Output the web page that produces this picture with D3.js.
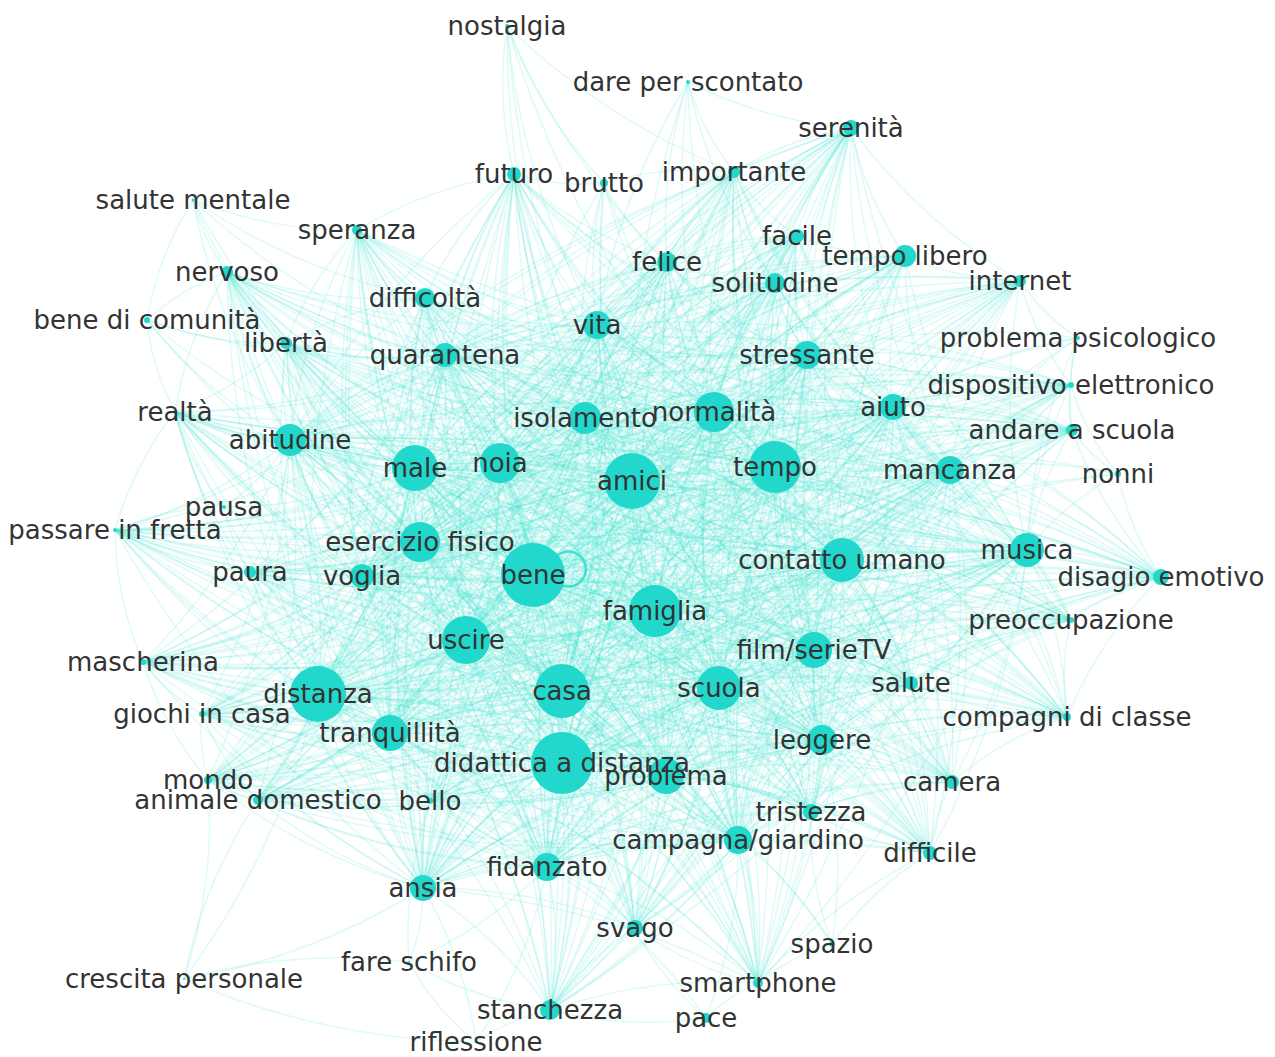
<!DOCTYPE html>
<html>
<head>
<meta charset="utf-8">
<script src="https://cdn.jsdelivr.net/npm/d3@7"></script>
<style>
  html, body { margin: 0; padding: 0; background: #fff; }
  #chart { width: 1275px; height: 1057px; }
  .label { font-family: "DejaVu Sans", sans-serif; font-size: 26px; fill: #333; }
</style>
</head>
<body>
<div id="chart"></div>
<script>
// word co-occurrence network: node layout positions
const nodeNames = [
  "nostalgia", "dare per scontato", "serenità", "importante", "futuro", "brutto",
  "salute mentale", "speranza", "facile", "felice", "tempo libero", "solitudine",
  "internet", "nervoso", "difficoltà", "bene di comunità", "vita", "libertà",
  "quarantena", "stressante", "problema psicologico", "dispositivo elettronico", "realtà", "aiuto",
  "isolamento", "normalità", "andare a scuola", "abitudine", "male", "noia",
  "amici", "tempo", "mancanza", "nonni", "pausa", "passare in fretta",
  "esercizio fisico", "bene", "paura", "voglia", "contatto umano", "musica",
  "disagio emotivo", "famiglia", "preoccupazione", "uscire", "film/serieTV", "mascherina",
  "distanza", "casa", "scuola", "salute", "giochi in casa", "compagni di classe",
  "tranquillità", "leggere", "didattica a distanza", "problema", "mondo", "animale domestico",
  "bello", "camera", "tristezza", "campagna/giardino", "difficile", "fidanzato",
  "ansia", "svago", "spazio", "fare schifo", "crescita personale", "smartphone",
  "stanchezza", "pace", "riflessione"
];
const nodeX = [
  507, 688, 851, 734, 514, 604,
  193, 357, 797, 667, 905, 775,
  1020, 227, 425, 147, 597, 286,
  445, 807, 1078, 1071, 175, 893,
  585, 714, 1072, 290, 415, 500,
  632, 775, 950, 1118, 224, 115,
  420, 533, 250, 362, 842, 1027,
  1161, 655, 1071, 466, 814, 143,
  318, 562, 719, 911, 202, 1067,
  390, 822, 562, 666, 208, 258,
  430, 952, 811, 738, 930, 547,
  423, 635, 832, 409, 184, 758,
  550, 706, 476
];
const nodeY = [
  26, 82, 128, 172, 174, 183,
  200, 230, 236, 262, 256, 283,
  281, 272, 298, 320, 325, 343,
  355, 355, 338, 385, 412, 407,
  418, 412, 430, 440, 468, 463,
  481, 467, 470, 474, 507, 530,
  542, 575, 572, 576, 560, 550,
  577, 611, 620, 640, 650, 662,
  694, 691, 688, 683, 714, 717,
  733, 740, 763, 776, 780, 800,
  801, 782, 812, 840, 853, 867,
  888, 928, 944, 962, 979, 983,
  1010, 1018, 1042
];
// node weight (frequency) -> circle area
const nodeWeight = [
  4, 4, 64, 36, 49, 16,
  2, 25, 49, 100, 121, 100,
  36, 36, 100, 9, 196, 36,
  144, 196, 4, 9, 4, 169,
  256, 400, 36, 256, 529, 400,
  784, 676, 196, 9, 4, 4,
  400, 1024, 36, 144, 484, 289,
  64, 676, 9, 576, 324, 9,
  784, 729, 484, 49, 9, 16,
  324, 225, 961, 324, 16, 25,
  9, 49, 64, 196, 49, 196,
  169, 64, 9, 1, 1, 25,
  100, 25, 1
];

// words that all co-occur with each other
const coreWords = [
  "bene", "amici", "casa", "didattica a distanza", "distanza", "famiglia", "tempo",
  "uscire", "male", "noia", "normalità", "contatto umano", "scuola", "esercizio fisico",
  "isolamento", "vita", "quarantena", "stressante", "abitudine", "aiuto", "mancanza",
  "musica", "film/serieTV", "tranquillità", "leggere", "problema", "campagna/giardino",
  "fidanzato", "ansia", "voglia"
];

// words that co-occur with every core word
const coreLinkedWords = [
  "serenità", "importante", "futuro", "felice", "tempo libero", "solitudine",
  "difficoltà", "speranza", "libertà", "nervoso", "paura", "salute", "camera",
  "tristezza", "difficile", "svago", "mascherina", "giochi in casa", "animale domestico",
  "bello", "stanchezza", "disagio emotivo", "preoccupazione", "andare a scuola",
  "compagni di classe", "internet", "facile", "passare in fretta", "realtà", "mondo",
  "smartphone", "dispositivo elettronico"
];

// other co-occurrences of the less frequent words
const spokes = [
  ["nostalgia", ["futuro", "brutto", "vita", "amici", "felice", "normalità", "importante", "isolamento"]],
  ["dare per scontato", ["importante", "serenità", "felice", "normalità", "amici", "vita", "solitudine", "tempo"]],
  ["serenità", ["importante", "facile", "tempo libero", "solitudine", "internet", "felice"]],
  ["importante", ["felice", "facile", "solitudine", "brutto"]],
  ["futuro", ["felice", "difficoltà", "brutto", "speranza"]],
  ["brutto", ["vita", "felice", "isolamento", "amici", "normalità", "noia", "tempo", "famiglia"]],
  ["salute mentale", ["nervoso", "libertà", "abitudine", "difficoltà", "speranza", "quarantena", "male", "bene di comunità"]],
  ["speranza", ["difficoltà", "libertà"]],
  ["facile", ["solitudine", "tempo libero", "felice"]],
  ["felice", ["solitudine"]],
  ["tempo libero", ["solitudine", "internet"]],
  ["internet", ["dispositivo elettronico", "problema psicologico"]],
  ["nervoso", ["libertà", "difficoltà", "realtà", "bene di comunità"]],
  ["difficoltà", ["libertà"]],
  ["bene di comunità", ["libertà", "abitudine", "realtà", "male", "quarantena", "esercizio fisico"]],
  ["problema psicologico", ["dispositivo elettronico", "aiuto", "mancanza", "andare a scuola", "tempo", "contatto umano", "musica", "stressante"]],
  ["dispositivo elettronico", ["andare a scuola", "nonni"]],
  ["realtà", ["pausa", "passare in fretta", "paura", "libertà"]],
  ["andare a scuola", ["nonni", "disagio emotivo"]],
  ["nonni", ["mancanza", "musica", "contatto umano", "disagio emotivo", "tempo", "famiglia"]],
  ["pausa", ["passare in fretta", "abitudine", "paura", "voglia", "esercizio fisico", "male"]],
  ["passare in fretta", ["paura", "mascherina"]],
  ["disagio emotivo", ["preoccupazione", "compagni di classe", "salute"]],
  ["preoccupazione", ["salute", "compagni di classe"]],
  ["mascherina", ["giochi in casa", "mondo"]],
  ["salute", ["camera", "compagni di classe"]],
  ["giochi in casa", ["mondo", "animale domestico"]],
  ["compagni di classe", ["camera"]],
  ["mondo", ["animale domestico", "bello"]],
  ["animale domestico", ["bello", "crescita personale"]],
  ["bello", ["fare schifo"]],
  ["camera", ["tristezza", "difficile"]],
  ["tristezza", ["difficile", "spazio"]],
  ["difficile", ["spazio", "smartphone"]],
  ["svago", ["smartphone", "stanchezza", "pace"]],
  ["spazio", ["campagna/giardino", "smartphone", "leggere", "problema"]],
  ["fare schifo", ["ansia", "stanchezza", "fidanzato", "riflessione", "crescita personale"]],
  ["crescita personale", ["riflessione", "mondo", "ansia", "distanza"]],
  ["smartphone", ["pace", "stanchezza"]],
  ["stanchezza", ["riflessione", "pace"]],
  ["pace", ["campagna/giardino", "fidanzato"]],
  ["riflessione", ["ansia", "fidanzato"]]
];

const selfLoops = ["bene"];

/* canvas */
const width = 1275;
const height = 1057;

const svg = d3.select("#chart")
  .append("svg")
  .attr("width", width)
  .attr("height", height);

svg.append("rect").attr("width", width).attr("height", height).attr("fill", "#fff");

// soft look of the original render
const defs = svg.append("defs");
defs.append("filter").attr("id", "soft")
  .append("feGaussianBlur").attr("stdDeviation", 0.6);

/* scales: layout units -> pixels, weight -> radius */
const xScale = d3.scaleLinear().domain([0, 1275]).range([0, width]);
const yScale = d3.scaleLinear().domain([0, 1057]).range([0, height]);
const rScale = d3.scaleSqrt().domain([0, 1024]).range([0, 32]);

const nodes = nodeNames.map((name, i) => ({ name, x: nodeX[i], y: nodeY[i], w: nodeWeight[i] }));
const byName = new Map(nodes.map(d => [d.name, d]));

/* build the edge list */
const seen = new Set();
const links = [];
function addLink(a, b) {
  const key = a < b ? a + "|" + b : b + "|" + a;
  if (a === b || seen.has(key)) return;
  seen.add(key);
  links.push({ source: byName.get(a), target: byName.get(b) });
}
coreWords.forEach((a, i) => coreWords.slice(i + 1).forEach(b => addLink(a, b)));
coreLinkedWords.forEach(a => coreWords.forEach(b => addLink(a, b)));
spokes.forEach(([a, list]) => list.forEach(b => addLink(a, b)));

/* edges: slightly bent arcs */
function arcPath(d) {
  const x1 = xScale(d.source.x), y1 = yScale(d.source.y);
  const x2 = xScale(d.target.x), y2 = yScale(d.target.y);
  const mx = (x1 + x2) / 2, my = (y1 + y2) / 2;
  const dx = x2 - x1, dy = y2 - y1;
  const p = d3.path();
  p.moveTo(x1, y1);
  p.quadraticCurveTo(mx - dy * 0.1, my + dx * 0.1, x2, y2);
  return p.toString();
}

svg.append("g")
  .attr("filter", "url(#soft)")
  .selectAll("path")
  .data(links)
  .join("path")
    .attr("d", arcPath)
    .attr("fill", "none")
    .attr("stroke", "#40e0d0")
    .attr("stroke-opacity", 0.17)
    .attr("stroke-width", 1.5);

/* self loops */
svg.append("g")
  .selectAll("circle")
  .data(selfLoops.map(n => byName.get(n)))
  .join("circle")
    .attr("cx", d => xScale(d.x) + rScale(d.w) * 1.1)
    .attr("cy", d => yScale(d.y) - 6)
    .attr("r", d => rScale(d.w) * 0.55)
    .attr("fill", "none")
    .attr("stroke", "#40e0d0")
    .attr("stroke-width", 2.5);

/* nodes */
svg.append("g")
  .selectAll("circle")
  .data(nodes)
  .join("circle")
    .attr("cx", d => xScale(d.x))
    .attr("cy", d => yScale(d.y))
    .attr("r", d => rScale(d.w))
    .attr("fill", "#22d8cc");

/* labels */
svg.append("g")
  .selectAll("text")
  .data(nodes)
  .join("text")
    .attr("class", "label")
    .attr("x", d => xScale(d.x))
    .attr("y", d => yScale(d.y))
    .attr("text-anchor", "middle")
    .attr("dominant-baseline", "central")
    .text(d => d.name);
</script>
</body>
</html>
